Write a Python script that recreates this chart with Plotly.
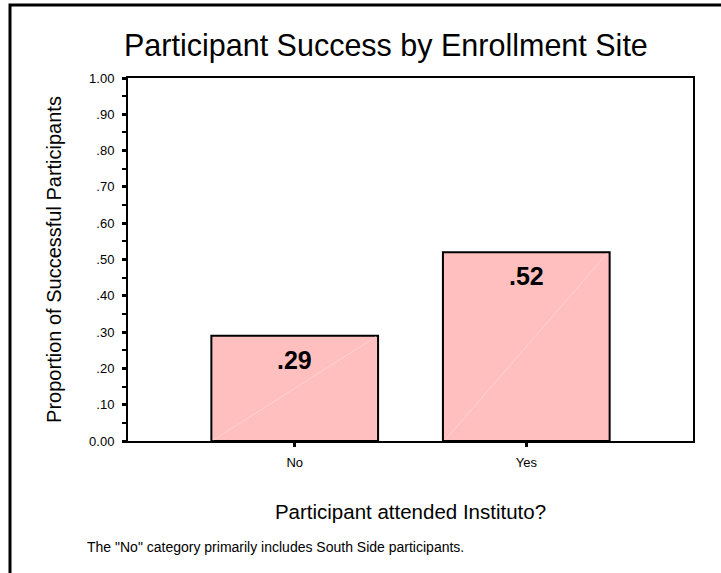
import plotly.graph_objects as go

# Proportion of successful participants by enrollment site
categories = ["No", "Yes"]
proportions = [0.29, 0.52]
y_tick_values = [0.0, 0.1, 0.2, 0.3, 0.4, 0.5, 0.6, 0.7, 0.8, 0.9, 1.0]
y_tick_labels = ["0.00", ".10", ".20", ".30", ".40", ".50", ".60", ".70", ".80", ".90", "1.00"]

FONT = "Arial, 'Liberation Sans', sans-serif"
BAR_COLOR = "#FFBFBF"
BAR_WIDTH = 0.72
xpos = list(range(len(categories)))

fig = go.Figure()
fig.add_trace(go.Bar(
    x=xpos,
    y=proportions,
    width=BAR_WIDTH,
    marker=dict(color=BAR_COLOR, line=dict(color="black", width=2)),
    hoverinfo="skip",
))

# faint diagonal rendered across each bar face
for xi, v in zip(xpos, proportions):
    fig.add_trace(go.Scatter(
        x=[xi - BAR_WIDTH / 2 + 0.01, xi + BAR_WIDTH / 2 - 0.01],
        y=[0.003, v - 0.003],
        mode="lines",
        line=dict(color="#FFD2D2", width=1),
        hoverinfo="skip",
    ))

# value labels inside bars near the top
for xi, v in zip(xpos, proportions):
    fig.add_annotation(
        x=xi, y=v, xref="x", yref="y",
        text="<b>" + f"{v:.2f}".lstrip("0") + "</b>",
        showarrow=False, yanchor="top", yshift=-8,
        font=dict(family=FONT, size=25, color="black"),
    )

# chart title
fig.add_annotation(
    x=(386 - 128) / 565, y=(441 - 45) / 363, xref="paper", yref="paper",
    text="Participant Success by Enrollment Site",
    showarrow=False, xanchor="center", yanchor="middle",
    font=dict(family=FONT, size=30.5, color="black"),
)

# footnote
fig.add_annotation(
    x=(85 - 128) / 565, y=(441 - 547) / 363, xref="paper", yref="paper",
    text='The "No" category primarily includes South Side participants.',
    showarrow=False, xanchor="left", yanchor="middle",
    font=dict(family=FONT, size=14, color="black"),
)

# outer frame around the whole chart
fig.add_shape(
    type="rect", xref="paper", yref="paper",
    x0=(10 - 128) / 565, x1=(740 - 128) / 565,
    y0=(441 - 600) / 363, y1=(441 - 5) / 363,
    line=dict(color="black", width=3), fillcolor="rgba(0,0,0,0)",
    layer="above",
)

fig.update_layout(
    width=721, height=573,
    margin=dict(l=128, r=28, t=78, b=132, pad=0),
    paper_bgcolor="white", plot_bgcolor="white",
    showlegend=False,
    font=dict(family=FONT, color="black"),
    xaxis=dict(
        range=[-0.72, 1.72],
        tickvals=xpos, ticktext=categories,
        ticks="outside", ticklen=4, tickwidth=3, tickcolor="black",
        ticklabelstandoff=4,
        tickfont=dict(family=FONT, size=13, color="black"),
        showline=True, linecolor="black", linewidth=2, mirror=True,
        showgrid=False, zeroline=False,
        title=dict(text="Participant attended Instituto?",
                   font=dict(family=FONT, size=20.5, color="black"),
                   standoff=36),
    ),
    yaxis=dict(
        range=[0, 1.0],
        tickvals=y_tick_values, ticktext=y_tick_labels,
        ticks="outside", ticklen=4, tickwidth=3, tickcolor="black",
        ticklabelstandoff=5,
        tickfont=dict(family=FONT, size=13, color="black"),
        minor=dict(dtick=0.05, tick0=0, ticks="outside", ticklen=4,
                   tickwidth=2, tickcolor="black", showgrid=False),
        showline=True, linecolor="black", linewidth=2, mirror=True,
        showgrid=False, zeroline=False,
        title=dict(text="Proportion of Successful Participants",
                   font=dict(family=FONT, size=20, color="black"),
                   standoff=22),
    ),
)

fig.write_html("out.html")
